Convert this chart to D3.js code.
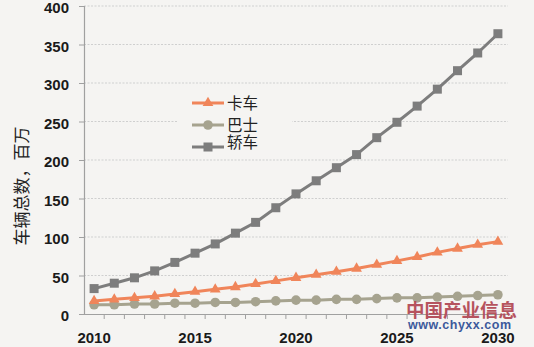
<!DOCTYPE html>
<html><head><meta charset="utf-8">
<script src="https://cdn.jsdelivr.net/npm/d3@7/dist/d3.min.js"></script>
<style>
html,body{margin:0;padding:0;background:#f5f4f2;}
svg{display:block;}
</style></head>
<body>
<svg id="chart" width="534" height="347"></svg>
<script>
const years = d3.range(2010, 2031);
const xTickLabels = [2010, 2015, 2020, 2025, 2030];
const yTicks = [0, 50, 100, 150, 200, 250, 300, 350, 400];
const truck = [17,19,21,23,26,29,32,35,39,43,47,51,55,59,64,69,74,80,85,90,94];
const bus   = [12,12,13,13,14,14,15,15,16,17,18,18,19,19,20,21,21,22,23,24,25];
const sedan = [33,40,47,56,67,79,91,105,119,138,156,173,190,207,229,249,270,292,316,339,364];
const seriesNames = ["卡车", "巴士", "轿车"];
const yTitle = "车辆总数，百万";

const svg = d3.select("#chart");
svg.append("rect").attr("width",534).attr("height",347).attr("fill","#f5f4f2");

const x = d3.scaleBand().domain(years).range([84, 508]);
const y = d3.scaleLinear().domain([0, 400]).range([314, 6]);
const cx = d => x(d) + x.bandwidth()/2;

// gridlines
svg.append("g").selectAll("line").data(yTicks.filter(d=>d>0)).join("line")
  .attr("x1",84).attr("x2",508).attr("y1",d=>y(d)).attr("y2",d=>y(d))
  .attr("stroke","#cfcfcf").attr("stroke-width",1.2).attr("stroke-dasharray","2,1.5");

// y axis
const yAxis = svg.append("g").attr("transform","translate(84,0)")
  .call(d3.axisLeft(y).tickValues(yTicks).tickSize(5).tickPadding(10));
yAxis.select(".domain").attr("stroke","#a0a0a0").attr("stroke-width",1.2);
yAxis.selectAll(".tick line").attr("stroke","#a0a0a0");
yAxis.selectAll("text").attr("font-family","Liberation Sans, Arial, sans-serif")
  .attr("font-size",15).attr("font-weight","bold").attr("fill","#1a1a1a").attr("dy","0.45em");

// x axis
const xAxis = svg.append("g").attr("transform","translate(0,314)")
  .call(d3.axisBottom(x).tickValues(years).tickSize(0).tickFormat(""));
xAxis.select(".domain").attr("stroke","#a0a0a0").attr("stroke-width",1.2);
// ticks at band boundaries
svg.append("g").selectAll("line").data(years.slice(1)).join("line")
  .attr("x1",d=>x(d)).attr("x2",d=>x(d)).attr("y1",314).attr("y2",319)
  .attr("stroke","#a0a0a0").attr("stroke-width",1);
svg.append("g").selectAll("text").data(xTickLabels).join("text")
  .attr("x",d=>cx(d)).attr("y",343).attr("text-anchor","middle")
  .attr("font-family","Liberation Sans, Arial, sans-serif").attr("font-size",15)
  .attr("font-weight","bold").attr("fill","#1a1a1a").text(d=>d);

// y title
svg.append("text").attr("transform","translate(28,186) rotate(-90)")
  .attr("text-anchor","middle").attr("font-family","Noto Sans CJK SC, sans-serif")
  .attr("font-size",17).attr("fill","#222").text(yTitle);

const colors = ["#f0855a", "#a6a38f", "#7d7d7d"];
const data = [truck, bus, sedan];
const line = d3.line().x((d,i)=>cx(years[i])).y(d=>y(d));

function marker(g, type, color, px, py) {
  if (type === 0) {
    g.append("path").attr("d", d3.symbol().type(d3.symbolTriangle).size(50)())
      .attr("transform",`translate(${px},${py})`).attr("fill",color);
  } else if (type === 1) {
    g.append("circle").attr("cx",px).attr("cy",py).attr("r",4.8).attr("fill",color);
  } else {
    g.append("rect").attr("x",px-4.5).attr("y",py-4.5).attr("width",9).attr("height",9).attr("fill",color);
  }
}

// draw in order: bus, truck, sedan
[1,0,2].forEach(k => {
  const g = svg.append("g");
  g.append("path").datum(data[k]).attr("d", line).attr("fill","none")
    .attr("stroke", colors[k]).attr("stroke-width", 3);
  data[k].forEach((v,i) => marker(g, k, colors[k], cx(years[i]), y(v)));
});

// legend
const lg = svg.append("g");
lg.append("rect").attr("x",178).attr("y",92).attr("width",114).attr("height",62).attr("fill","#f5f4f2");
const rowsY = [103, 125, 147];
seriesNames.forEach((name,k) => {
  lg.append("line").attr("x1",192).attr("x2",224).attr("y1",rowsY[k]).attr("y2",rowsY[k])
    .attr("stroke",colors[k]).attr("stroke-width",3);
  marker(lg, k, colors[k], 208, rowsY[k]);
  lg.append("text").attr("x",227).attr("y",rowsY[k] + (k===2 ? 1 : 6)).attr("font-family","Noto Sans CJK SC, sans-serif")
    .attr("font-size",15.5).attr("fill","#222").text(name);
});

// watermark
svg.append("text").attr("x",406).attr("y",317).attr("font-family","Noto Sans CJK SC, sans-serif")
  .attr("font-weight","bold").attr("font-size",18.5).attr("fill","#b34b57").attr("opacity",0.95).text("中国产业信息");
svg.append("text").attr("x",408).attr("y",329).attr("font-family","Liberation Sans, Arial, sans-serif")
  .attr("font-weight","bold").attr("font-size",12.5).attr("fill","#3d5a9c").attr("textLength",103).text("www.chyxx.com");
</script>
</body></html>
